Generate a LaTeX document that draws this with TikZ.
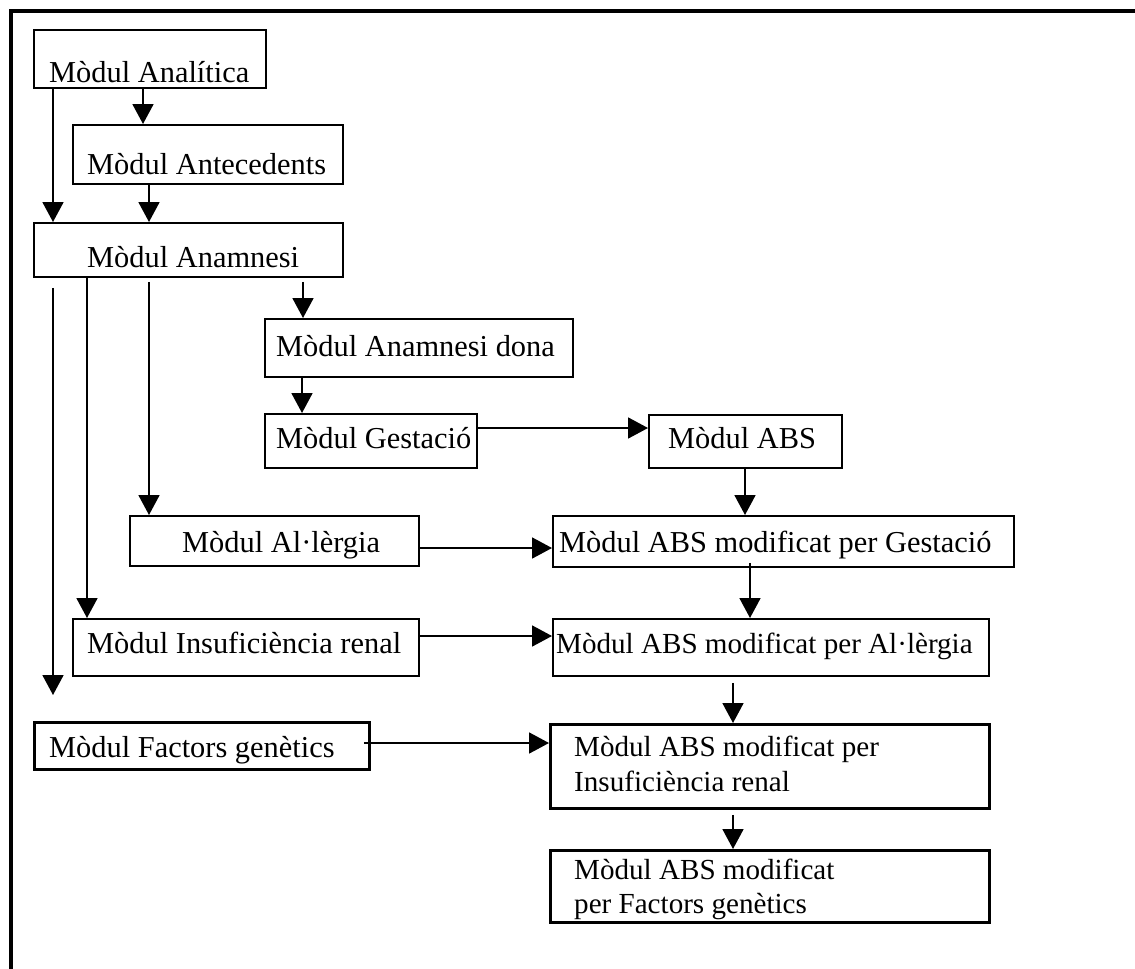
\documentclass[tikz,border=0pt]{standalone}
\usepackage{fontspec}
\setmainfont{Liberation Serif}
\usetikzlibrary{arrows.meta}
\begin{document}
\begin{tikzpicture}[x=1pt,y=-1pt,
  box/.style={draw,line width=1.8pt,rectangle,inner sep=0pt,anchor=north west},
  heavybox/.style={box,line width=2.8pt},
  txt/.style={inner sep=0pt,anchor=base west,font=\fontsize{30.4pt}{35pt}\selectfont},
  smalltxt/.style={txt,font=\fontsize{29.1pt}{34pt}\selectfont},
  arr/.style={line width=1.8pt,-{Triangle[width=21pt,length=20pt]}}]
\useasboundingbox (0,0) rectangle (1135,969);
% outer frame: top and left edges only
\draw[line width=3.7pt,line join=miter] (1140,11) -- (11,11) -- (11,975);

% module boxes
\node[box,minimum width=232pt,minimum height=58pt] (ana) at (33,29) {};
\node[txt] (tana) at (49,82) {Mòdul Analítica};
\node[box,minimum width=270pt,minimum height=59pt] (ant) at (72,124) {};
\node[txt] (tant) at (87,174) {Mòdul Antecedents};
\node[box,minimum width=309pt,minimum height=54pt] (anm) at (33,222) {};
\node[txt] (tanm) at (87,267) {Mòdul Anamnesi};
\node[box,minimum width=308pt,minimum height=58pt] (dona) at (264,318) {};
\node[txt] (tdona) at (276,356) {Mòdul Anamnesi dona};
\node[box,minimum width=212pt,minimum height=54pt] (gest) at (264,413) {};
\node[txt] (tgest) at (276,448) {Mòdul Gestació};
\node[box,minimum width=193pt,minimum height=53pt] (abs) at (648,414) {};
\node[txt] (tabs) at (668,448) {Mòdul ABS};
\node[box,minimum width=461pt,minimum height=51pt] (mg) at (552,515) {};
\node[txt] (tmg) at (559,552) {Mòdul ABS modificat per Gestació};
\node[box,minimum width=289pt,minimum height=50pt] (alg) at (129,515) {};
\node[txt] (talg) at (182,552) {Mòdul Al·lèrgia};
\node[box,minimum width=436pt,minimum height=57pt] (mal) at (552,618) {};
\node[smalltxt] (tmal) at (556,653) {Mòdul ABS modificat per Al·lèrgia};
\node[box,minimum width=346pt,minimum height=57pt] (ins) at (72,618) {};
\node[txt] (tins) at (87,653) {Mòdul Insuficiència renal};
\node[heavybox,minimum width=439pt,minimum height=84pt] (mins) at (549,723) {};
\node[smalltxt] (tmins1) at (574,756) {Mòdul ABS modificat per};
\node[smalltxt] (tmins2) at (574,791) {Insuficiència renal};
\node[heavybox,minimum width=335pt,minimum height=47pt] (fg) at (33,721) {};
\node[txt] (tfg) at (49,757) {Mòdul Factors genètics};
\node[heavybox,minimum width=439pt,minimum height=72pt] (mfg) at (549,849) {};
\node[smalltxt] (tmfg1) at (574,879) {Mòdul ABS modificat};
\node[smalltxt] (tmfg2) at (574,913) {per Factors genètics};

\coordinate (fgend) at (53,695);

% connectors
\draw[arr] ([xshift=110pt]ana.south west) -- ([xshift=71pt]ant.north west);
\draw[arr] ([xshift=20pt]ana.south west) -- ([xshift=20pt]anm.north west);
\draw[arr] ([xshift=77pt]ant.south west) -- ([xshift=116pt]anm.north west);
\draw[arr] ([xshift=270pt,yshift=-4pt]anm.south west) -- ([xshift=39pt]dona.north west);
\draw[arr] ([xshift=38pt]dona.south west) -- ([xshift=38pt]gest.north west);
\draw[arr] ([yshift=-15pt]gest.north east) -- ([yshift=-14pt]abs.north west);
\draw[arr] ([xshift=97pt]abs.south west) -- ([xshift=193pt]mg.north west);
\draw[arr] ([xshift=116pt,yshift=-4pt]anm.south west) -- ([xshift=20pt]alg.north west);
\draw[arr] ([yshift=-33pt]alg.north east) -- ([yshift=-33pt]mg.north west);
\draw[arr] ([xshift=198pt,yshift=5pt]mg.south west) -- ([xshift=198pt]mal.north west);
\draw[arr] ([xshift=54pt]anm.south west) -- ([xshift=15pt]ins.north west);
\draw[arr] ([yshift=-18pt]ins.north east) -- ([yshift=-18pt]mal.north west);
\draw[arr] ([xshift=181pt,yshift=-6pt]mal.south west) -- ([xshift=184pt]mins.north west);
\draw[arr] ([xshift=184pt,yshift=-5pt]mins.south west) -- ([xshift=184pt]mfg.north west);
\draw[arr] ([xshift=20pt,yshift=-10pt]anm.south west) -- (fgend);
\draw[arr] ([xshift=-7pt,yshift=-22pt]fg.north east) -- ([yshift=-20pt]mins.north west);
\end{tikzpicture}
\end{document}
